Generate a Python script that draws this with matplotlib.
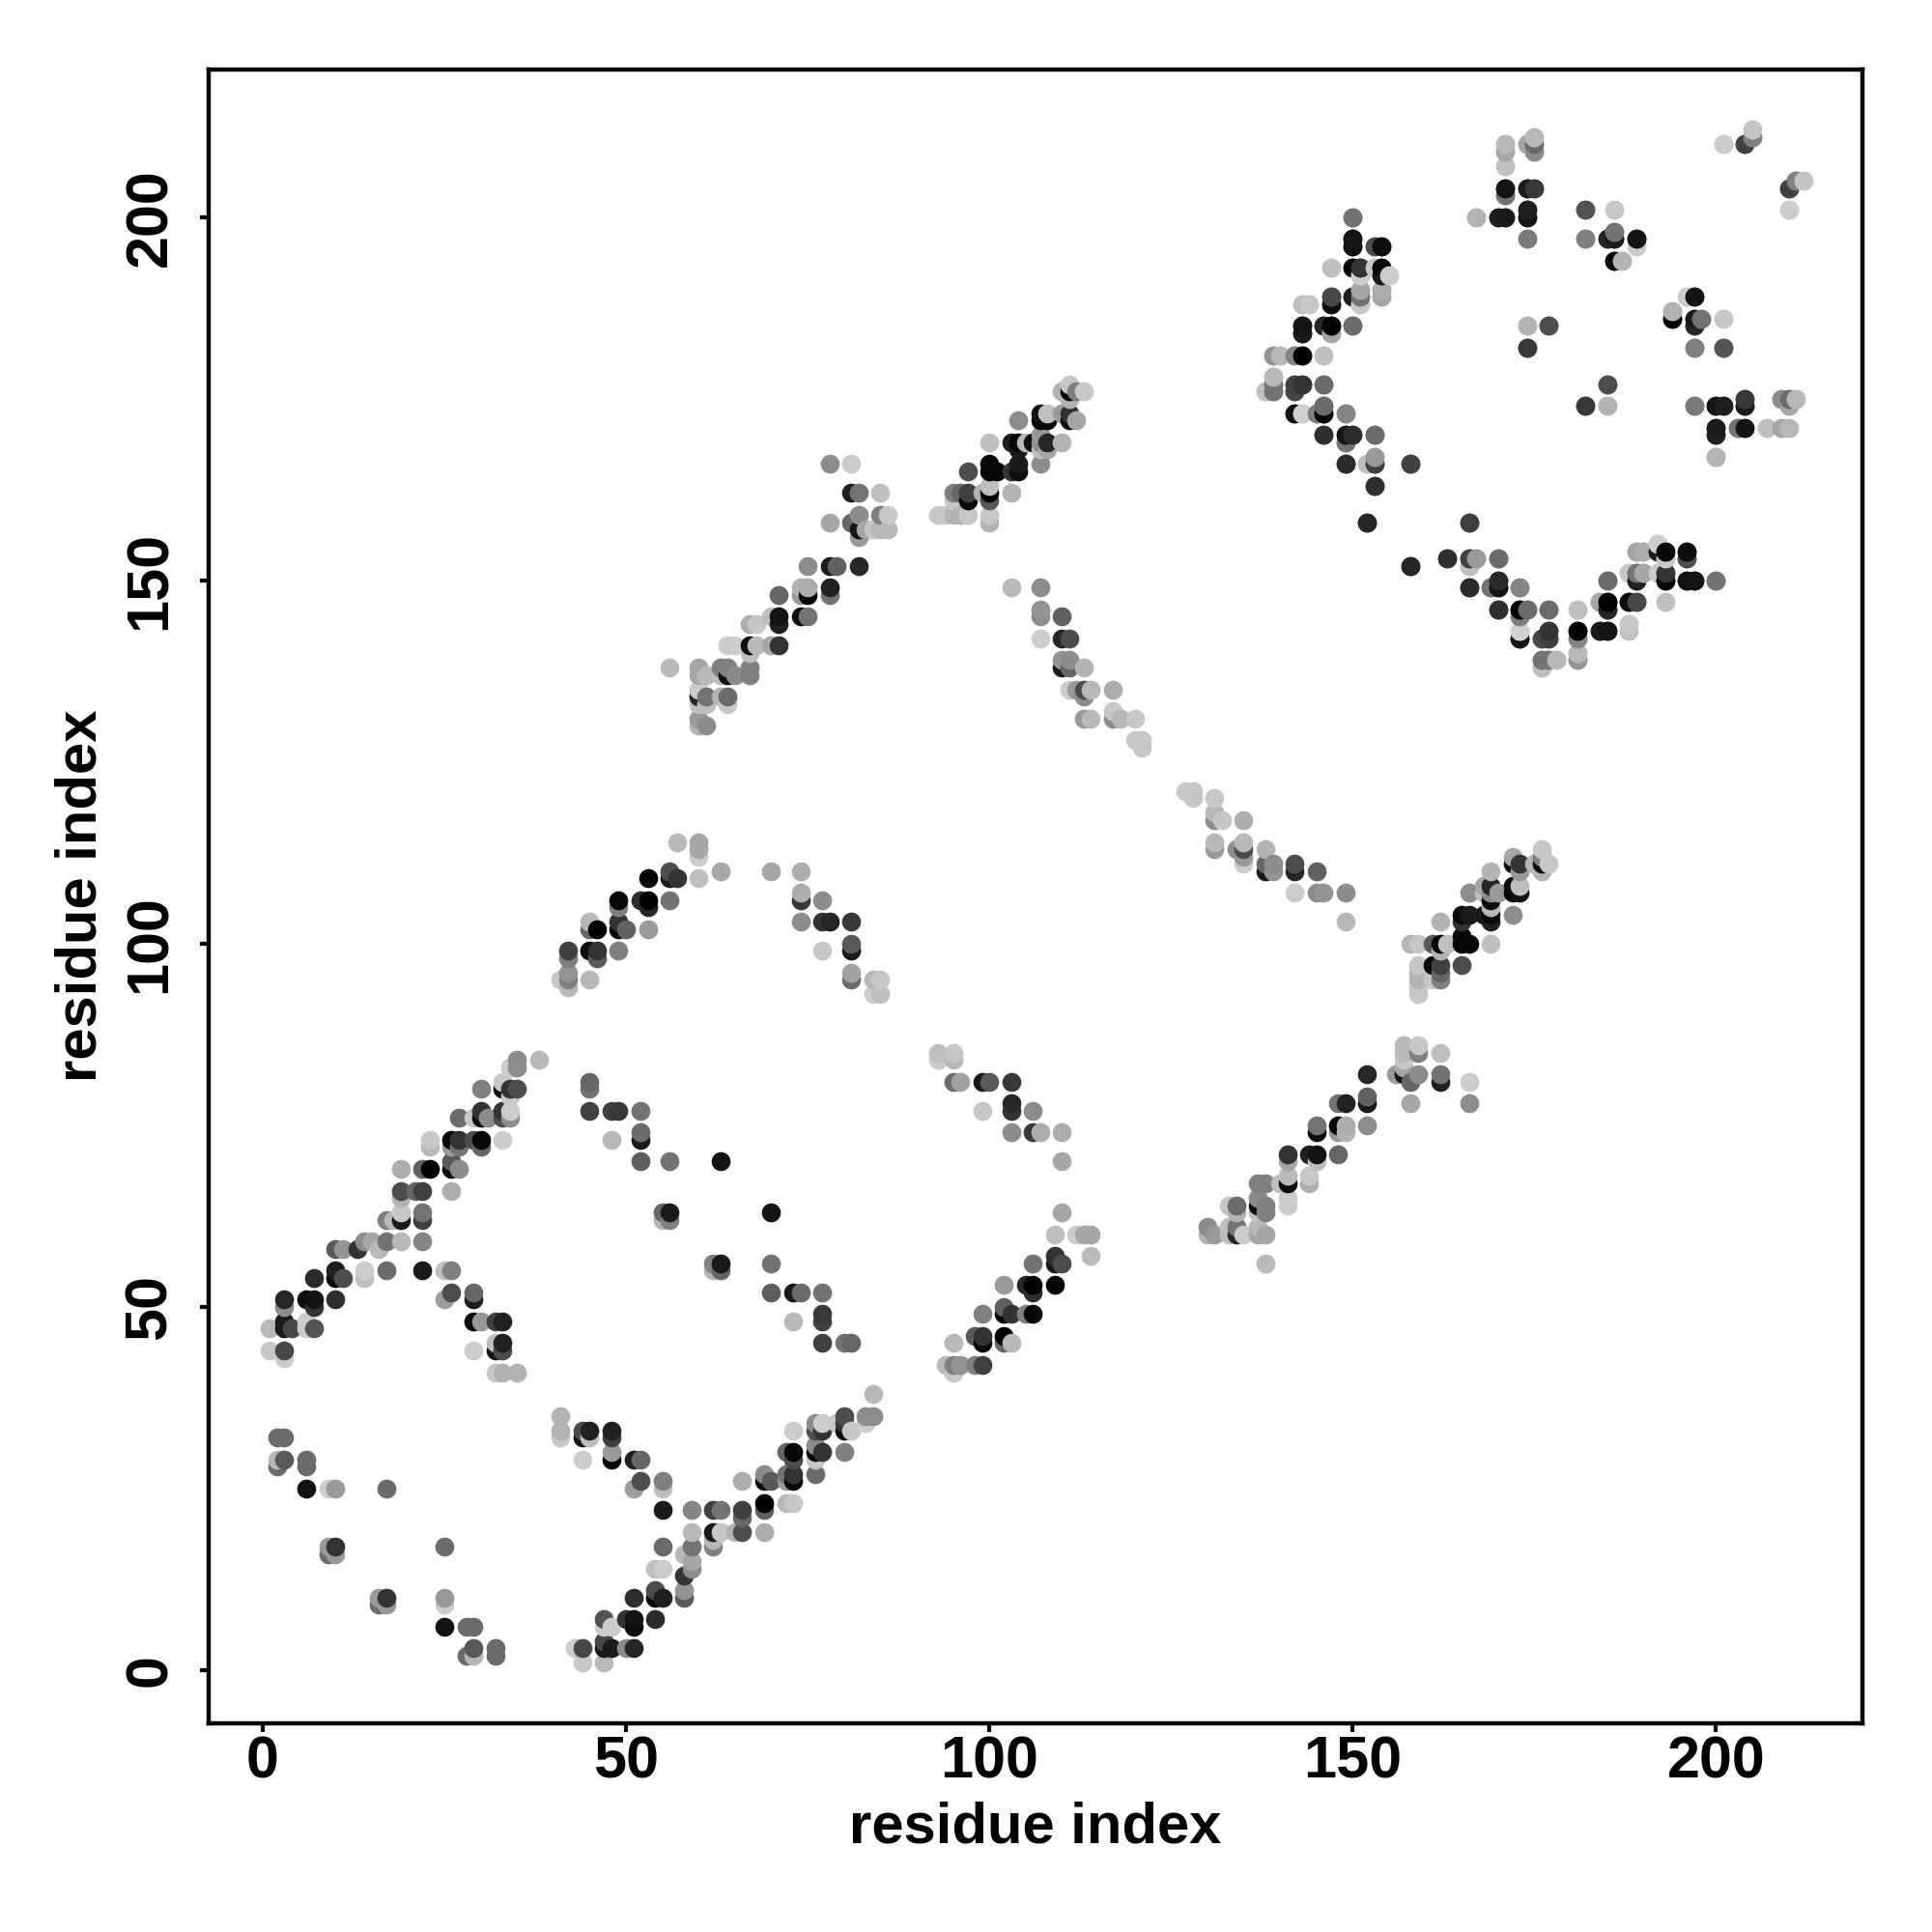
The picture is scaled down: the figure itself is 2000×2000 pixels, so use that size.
"""
Residue contact map, drawn from the upper triangle and mirrored.
Each entry is (residue i, residue j, grey level).
"""

import matplotlib
matplotlib.use("Agg")
import matplotlib.pyplot as plt

plt.rcParams['font.family'] = ['Liberation Sans', 'DejaVu Sans']

OUT_FILE = "out.png"
AXIS_LABEL = "residue index"
TICKS = [0, 50, 100, 150, 200]

short_range = [
    (2, 32, .42), (3, 32, .42), (2, 29, .72), (3, 29, .35), (2, 28, .42), (6, 29, .42),
    (6, 28, .42), (6, 25, .07), (9, 25, .8), (10, 25, .6), (17, 25, .42), (9, 17, .6),
    (9, 16, .42), (10, 17, .2), (10, 16, .6),
]

helix_one = [
    (1, 47, .72), (1, 44, .78), (3, 44, .28), (3, 43, .8), (3, 48, .1), (3, 47, .1),
    (4, 47, .28), (3, 51, .15), (3, 50, .55), (6, 48, .8), (6, 47, .8), (7, 47, .33),
    (6, 51, .05), (7, 51, .08), (7, 50, .2), (10, 51, .18), (7, 54, .17), (10, 55, .12),
    (10, 54, .05), (11, 54, .3), (10, 58, .35), (11, 58, .58), (14, 55, .8), (14, 54, .75),
    (17, 55, .42), (13, 58, .2), (14, 59, .55), (15, 59, .65), (16, 58, .72), (17, 59, .45),
    (19, 59, .72), (22, 59, .52), (22, 62, .25), (22, 63, .45), (19, 62, .1), (19, 63, .78),
    (18, 62, .72), (17, 62, .5), (19, 65, .7), (19, 66, .3), (21, 66, .4), (22, 66, .25),
    (19, 69, .68), (22, 69, .38), (23, 69, .0), (26, 69, .05), (26, 70, .35), (27, 69, .55),
    (26, 66, .68), (23, 73, .78), (23, 72, .72), (26, 73, .03), (27, 73, .2), (26, 72, .6),
    (27, 72, .45), (29, 73, .3), (30, 73, .03), (30, 72, .4), (33, 73, .8), (27, 76, .42),
    (29, 76, .78), (30, 77, .2), (30, 76, .03), (31, 76, .55), (33, 77, .2), (33, 76, .3),
    (34, 76, .55), (34, 77, .8), (30, 80, .5), (33, 80, .05), (33, 81, .78), (34, 80, .2),
    (35, 80, .3), (34, 79, .78), (34, 83, .8), (35, 83, .55), (35, 84, .55), (38, 84, .72),
]

turn_one = [
    (22, 55, .1), (25, 55, .75), (26, 55, .5), (26, 52, .3), (25, 51, .62), (29, 52, .4),
    (29, 51, .12), (29, 48, .0), (30, 48, .6), (32, 48, .25), (33, 48, .13), (29, 44, .8),
    (32, 45, .75), (33, 45, .13), (32, 44, .08), (33, 44, .3), (32, 41, .78), (33, 41, .7),
    (35, 41, .7),
]

helix_two = [
    (57, 114, .73), (60, 114, .65), (60, 113, .65), (60, 112, .8), (60, 109, .75),
    (63, 110, .65), (53, 109, .02), (56, 110, .3), (56, 109, .1), (57, 109, .2),
    (49, 106, .03), (49, 105, .5), (52, 106, .18), (53, 106, .0), (53, 105, .15),
    (56, 106, .45), (45, 103, .72), (45, 102, .4), (46, 102, .0), (49, 103, .2),
    (49, 102, .03), (50, 102, .38), (53, 102, .6), (42, 99, .25), (42, 98, .5),
    (45, 99, .03), (46, 99, .2), (46, 98, .35), (49, 99, .5), (42, 96, .58),
    (42, 95, .5), (41, 95, .78), (42, 94, .72), (45, 95, .72),
]

turn_two = [
    (70, 110, .65), (74, 110, .68), (74, 107, .68), (74, 106, .22), (77, 106, .55),
    (74, 103, .55), (77, 103, .2), (78, 103, .15), (81, 103, .22), (81, 100, .35),
    (81, 99, .1), (77, 99, .78), (81, 96, .63), (81, 95, .42), (84, 95, .72), (85, 95, .78),
    (84, 93, .8), (85, 93, .75),
]

turn_three = [
    (45, 81, .4), (45, 80, .45), (45, 77, .25), (48, 77, .25), (49, 77, .22), (52, 77, .45),
    (48, 73, .72), (52, 74, .42), (52, 73, .1), (52, 70, .37), (56, 70, .45), (63, 70, .08),
    (55, 62, .7), (55, 63, .4), (56, 62, .5), (56, 63, .1),
]

helix_three = [
    (78, 166, .55), (81, 166, .8), (81, 162, .12), (82, 162, .45), (85, 162, .75),
    (78, 158, .65), (81, 158, .4), (82, 159, .55), (82, 157, .08), (82, 156, .6),
    (83, 157, .65), (85, 159, .5), (86, 159, .78), (85, 157, .72), (86, 157, .72),
    (84, 157, .78), (75, 152, .55), (78, 152, .1), (79, 152, .38), (82, 152, .15),
    (78, 149, .13), (78, 148, .45), (74, 149, .7), (75, 149, .68), (74, 148, .6),
    (75, 148, .0), (71, 148, .4), (71, 145, .07), (71, 144, .12), (70, 145, .75),
    (74, 145, .05), (75, 145, .45), (67, 144, .68), (68, 144, .78), (64, 141, .8),
    (65, 141, .8), (67, 141, .05), (68, 141, .73), (67, 140, .75), (70, 141, .65),
    (71, 141, .2), (56, 138, .73), (60, 138, .65), (61, 137, .72), (60, 137, .65),
    (63, 138, .5), (64, 138, .5), (64, 137, .05), (65, 137, .55), (67, 138, .5),
    (67, 137, .5), (63, 137, .75), (60, 135, .8), (60, 134, .15), (61, 134, .45),
    (60, 133, .75), (61, 133, .75), (63, 134, .7), (64, 134, .42), (64, 133, .78),
    (60, 131, .6), (60, 130, .7), (61, 130, .55),
]

helix_four = [
    (93, 159, .78), (94, 159, .78), (95, 159, .7), (96, 159, .7), (97, 159, .78),
    (100, 159, .78), (100, 158, .7), (95, 162, .5), (96, 162, .4), (97, 162, .25),
    (97, 161, .03), (95, 161, .78), (99, 162, .7), (100, 163, .75), (100, 162, .02),
    (100, 161, .35), (103, 162, .7), (97, 165, .3), (100, 166, .03), (100, 165, .02),
    (101, 165, .03), (103, 165, .2), (104, 166, .1), (104, 165, .05), (107, 166, .55),
    (100, 169, .75), (103, 169, .12), (104, 169, .03), (104, 168, .1), (105, 169, .72),
    (107, 170, .6), (106, 169, .05), (107, 169, .55), (108, 169, .15), (108, 168, .65),
    (107, 168, .75), (110, 169, .7), (104, 172, .55), (107, 173, .07), (107, 172, .03),
    (108, 172, .03), (108, 173, .75), (110, 173, .6), (111, 173, .2), (111, 172, .05),
    (112, 172, .65), (110, 176, .7), (111, 177, .78), (111, 175, .7), (111, 176, .03),
    (112, 176, .5), (113, 176, .78),
]

turn_four = [
    (103, 149, .72), (107, 149, .55), (107, 146, .58), (107, 145, .55), (110, 145, .38),
    (107, 142, .8), (110, 142, .15), (111, 142, .3), (110, 139, .58), (111, 139, .55),
    (110, 138, .1), (111, 138, .4), (113, 138, .7), (111, 135, .8), (112, 135, .6),
    (113, 135, .3), (114, 135, .72), (117, 135, .68), (113, 134, .55), (113, 131, .6),
    (114, 131, .72), (117, 132, .78), (117, 131, .55), (118, 131, .72), (120, 131, .78),
    (120, 128, .78), (121, 128, .78), (121, 127, .78),
]

arc_upper = [
    (150, 200, .42), (150, 197, .08), (150, 196, .03), (153, 196, .35), (154, 196, .08),
    (147, 193, .78), (150, 193, .05), (151, 193, .22), (151, 192, .8), (153, 193, .75),
    (154, 193, .08), (154, 192, .1), (155, 192, .78), (147, 189, .25), (147, 188, .03),
    (143, 188, .78), (144, 188, .78), (150, 189, .13), (151, 190, .65), (151, 189, .42),
    (151, 188, .8), (154, 190, .68), (154, 189, .65), (143, 185, .07), (143, 184, .1),
    (146, 185, .1), (147, 185, .0), (147, 184, .65), (150, 185, .42), (139, 181, .6),
    (140, 181, .75), (142, 181, .55), (143, 181, .0), (146, 181, .75), (139, 178, .7),
    (139, 177, .45), (138, 176, .75), (139, 176, .45), (142, 177, .3), (143, 177, .2),
    (142, 176, .25), (146, 177, .42), (142, 173, .08), (143, 173, .8), (145, 173, .55),
    (146, 174, .42), (146, 173, .0), (149, 173, .53), (146, 170, .18), (149, 170, .08),
    (150, 170, .2), (149, 169, .42), (153, 170, .42), (149, 166, .15), (152, 166, .75),
    (153, 167, .62), (153, 166, .2), (158, 166, .23), (153, 163, .17),
]

arc_lower = [
    (152, 158, .17), (166, 158, .25), (158, 152, .15), (163, 153, .18), (166, 153, .25),
    (167, 153, .6), (166, 152, .75), (170, 153, .42), (166, 149, .17), (169, 149, .45),
    (170, 150, .17), (170, 149, .08), (173, 149, .52), (170, 146, .18), (173, 146, .0),
    (174, 146, .42), (173, 145, .5), (177, 146, .42), (181, 146, .75), (173, 143, .82),
    (173, 142, .08), (176, 142, .28), (177, 143, .2), (177, 142, .25), (181, 143, .0),
    (181, 142, .52), (184, 143, .1), (185, 143, .08), (176, 139, .45), (177, 139, .45),
    (178, 139, .72), (176, 138, .75), (181, 140, .72), (181, 139, .58), (188, 144, .78),
    (188, 143, .75), (184, 147, .65), (185, 147, .0), (185, 146, .15), (188, 147, .05),
    (189, 147, .28), (185, 150, .42), (188, 151, .78), (189, 151, .45), (189, 150, .13),
    (190, 151, .65), (189, 154, .65), (190, 154, .68), (192, 155, .8), (192, 154, .1),
    (193, 154, .03), (193, 153, .78), (196, 154, .05), (196, 153, .3), (192, 151, .8),
    (193, 151, .2), (193, 150, .03), (196, 150, .07), (197, 150, .08), (200, 150, .45),
    (193, 147, .75),
]

sheet_top = [
    (171, 210, .75), (171, 209, .7), (171, 207, .77), (171, 204, .1), (171, 203, .42),
    (174, 210, .65), (175, 211, .75), (175, 210, .45), (175, 209, .55), (174, 204, .13),
    (175, 204, .23), (167, 200, .7), (170, 200, .13), (171, 200, .15), (174, 201, .12),
    (174, 200, .1), (174, 197, .5), (182, 201, .32), (186, 201, .8), (182, 197, .5),
    (185, 197, .15), (186, 197, .15), (186, 198, .48), (189, 197, .07), (189, 196, .8),
    (186, 194, .02), (187, 194, .7), (174, 185, .7), (177, 185, .3), (174, 182, .23),
    (196, 189, .8), (197, 189, .08), (194, 187, .7), (194, 186, .02), (197, 186, .1),
    (197, 185, .15), (198, 186, .45), (201, 186, .78), (197, 182, .5), (201, 182, .33),
    (185, 177, .3), (182, 174, .22), (185, 174, .7), (197, 174, .48), (200, 174, .08),
    (201, 174, .12), (204, 175, .22), (204, 174, .1), (209, 175, .55), (210, 175, .42),
    (211, 175, .72), (210, 174, .65), (200, 171, .1), (200, 170, .12), (203, 171, .45),
    (204, 171, .08), (207, 171, .75), (209, 171, .65), (210, 171, .72), (200, 167, .7),
    (201, 210, .78), (204, 210, .25), (205, 211, .5), (205, 212, .8), (210, 204, .25),
    (211, 205, .5), (212, 205, .77), (210, 201, .8),
]

regions = [short_range, helix_one, turn_one, helix_two, turn_two, turn_three, helix_three,
           helix_four, turn_four, arc_upper, arc_lower, sheet_top]


def both_triangles(region_lists):
    contacts = []
    for region in region_lists:
        for i, j, grey in region:
            contacts.append((i, j, grey))
            contacts.append((j, i, grey))
    # later residues get drawn on top, same as the original
    contacts.sort(key=lambda c: (c[0], c[1]))
    return contacts


def plot_contacts(contacts):
    fig = plt.figure(figsize=(10, 10), dpi=200)
    ax = fig.add_axes([0.108, 0.1082, 0.8558, 0.8558])

    for i, j, grey in contacts:
        ax.scatter(i, j, s=50, color=str(grey), linewidths=0, zorder=3)

    ax.set_xlim(-7.43, 220.1)
    ax.set_ylim(-7.27, 220.3)
    ax.set_xticks(TICKS)
    ax.set_yticks(TICKS)
    ax.tick_params(width=1.5, length=3.2, labelsize=22)
    ax.tick_params(axis='x', pad=1.5)
    ax.tick_params(axis='y', pad=8)
    for label in ax.get_xticklabels() + ax.get_yticklabels():
        label.set_fontweight('bold')
    for label in ax.get_yticklabels():
        label.set_rotation(90)
        label.set_verticalalignment('center')
    for spine in ax.spines.values():
        spine.set_linewidth(1.6)

    ax.set_xlabel(AXIS_LABEL, fontsize=21.5, fontweight='bold', labelpad=4)
    ax.set_ylabel(AXIS_LABEL, fontsize=21.5, fontweight='bold', labelpad=6)

    fig.savefig(OUT_FILE, dpi=200)


if __name__ == "__main__":
    plot_contacts(both_triangles(regions))
